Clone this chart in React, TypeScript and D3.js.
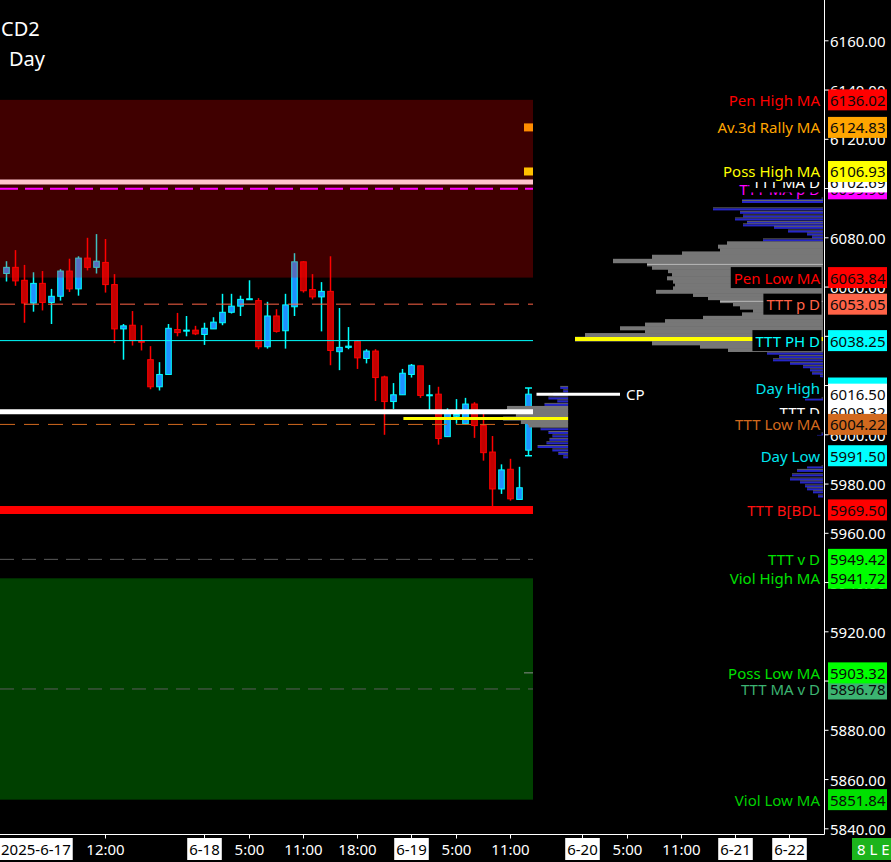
import React, { useEffect, useRef } from 'react';
import * as d3 from 'd3';

// ---------- DATA ----------
const candleOpen = [
  6065.5, 6068, 6062.75, 6053.5, 6061.5, 6053.75, 6056.25, 6066.5, 6059.25, 6071.75,
  6068, 6070, 6061, 6043, 6044.5, 6038, 6030.5, 6019.5, 6024.5, 6042.75,
  6042.25, 6042.5, 6040.75, 6043, 6045.5, 6049.75, 6052.25, 6055, 6054.5, 6035.75,
  6048.25, 6042.25, 6052, 6070.25, 6059, 6056, 6058.25, 6033.75, 6035.5, 6038,
  6031, 6034, 6023.5, 6013.5, 6016.25, 6024.5, 6028, 6016, 6016.5, 5999.25,
  6007.5, 6004.5, 6012.5, 6003.75, 5993, 5978, 5986, 5973.75, 5993.75,
];
const candleHigh = [
  6070.5, 6075, 6069, 6066, 6066.5, 6059.25, 6067.25, 6071.5, 6072.5, 6080,
  6081.5, 6079.5, 6065.25, 6045, 6050.25, 6044.5, 6036, 6029.5, 6045, 6049.5,
  6048.25, 6044.25, 6045.5, 6047.75, 6057.25, 6057.25, 6056.5, 6062.75, 6055.5, 6054,
  6051, 6057.25, 6073.75, 6070.5, 6065.25, 6062, 6072.5, 6051.5, 6043.75, 6038.5,
  6034.75, 6034.75, 6024, 6021, 6026.75, 6028.75, 6028, 6020.25, 6019.5, 6010.75,
  6014.5, 6015, 6013.25, 6008.75, 5999.5, 5988, 5990.25, 5987, 6019,
];
const candleLow = [
  6062.25, 6060.5, 6045.5, 6050, 6050.5, 6045, 6054.5, 6058, 6056.5, 6066.75,
  6065.5, 6057.75, 6037.25, 6030.5, 6036.25, 6034.25, 6018.5, 6018, 6024.5, 6040,
  6040, 6040.5, 6036.5, 6043, 6044.5, 6049.25, 6048.25, 6054.75, 6034.75, 6035,
  6041.5, 6035, 6048.25, 6057.75, 6055, 6042, 6028.25, 6026.25, 6034.75, 6026.75,
  6029, 6013.75, 6000, 6010.5, 6016.25, 6023.25, 6015, 6010, 5996, 5999.25,
  6004.5, 6004.5, 5998.75, 5989.5, 5970.75, 5976, 5973.25, 5973.75, 5991.5,
];
const candleClose = [
  6068, 6062.5, 6053.5, 6061.5, 6053.75, 6056.25, 6066.5, 6059.25, 6071.75, 6068,
  6070.5, 6061, 6043, 6044.25, 6038.25, 6037.75, 6019.5, 6024.5, 6043.25, 6041.5,
  6042.5, 6041, 6043.25, 6045.75, 6049.75, 6052.25, 6055, 6055.25, 6035.75, 6048.25,
  6042, 6052.75, 6070.25, 6058.5, 6056, 6058.25, 6034.25, 6035.5, 6036, 6031.25,
  6034, 6023.25, 6013.5, 6016.25, 6025, 6028.25, 6016, 6016.25, 5998.5, 6008.75,
  6008.25, 6012.5, 6003.75, 5992.75, 5978, 5985.75, 5974, 5978.5, 6016.5,
];

const levelNames = [
  'TTT MA p D', 'TTT MA D', 'Poss High MA', 'Pen High MA', 'Av.3d Rally MA', 'Pen Low MA',
  'TTT p D', 'TTT PH D', 'Day High', 'TTT D', 'CP', 'TTT Low MA', 'Day Low', 'TTT B[BDL',
  'TTT v D', 'Viol High MA', 'TTT MA v D', 'Poss Low MA', 'Viol Low MA',
];
const levelValues = [
  6099.90, 6102.69, 6106.93, 6136.02, 6124.83, 6063.84,
  6053.05, 6038.25, 6019.00, 6009.32, 6016.50, 6004.22, 5991.50, 5969.50,
  5949.42, 5941.72, 5896.78, 5903.32, 5851.84,
];

const yTickValues = d3.range(5840, 6161, 20);

const xTickIndex = [-1, 11, 22, 27, 33, 39, 45, 50, 56, 64, 69, 75, 81, 87];
const xTickLabels = ['2025-6-17', '12:00', '6-18', '5:00', '11:00', '18:00', '6-19', '5:00', '11:00', '6-20', '5:00', '11:00', '6-21', '6-22'];
const xTickIsDate = [true, false, true, false, false, false, true, false, false, true, false, false, true, true];

// session volume profile
const profilePrices = [
  6095.7, 6094.7, 6091.7, 6090.3, 6088.8, 6087.6, 6086.2, 6085.2, 6084.2, 6082.7, 6081.5, 6080.3, 6079.1,
  6077.8, 6076.4, 6075.0, 6073.7, 6072.3, 6070.4, 6069.2, 6067.8, 6066.5, 6065.0, 6063.5, 6062.2, 6060.8,
  6059.5, 6058.0, 6056.8, 6055.4, 6054.2, 6053.0, 6051.6, 6050.3, 6048.9, 6047.5, 6046.2, 6044.7, 6043.2,
  6041.9, 6040.5, 6038.9, 6037.1, 6035.8, 6034.4,
  6033.1, 6031.7, 6030.4, 6029.0, 6027.6, 6026.3, 6025.0, 6023.9, 6014.5, 6000.3,
  5986.9, 5985.5, 5983.7, 5982.0, 5980.8, 5979.2, 5978.0, 5976.8, 5975.1,
];
const profileVolumes = [
  81, 81, 110, 83, 80, 88, 76, 80, 49, 35, 16, 11, 60,
  96, 105, 103, 141, 171, 210, 176, 171, 155, 151, 156, 150, 148,
  150, 167, 130, 115, 103, 90, 83, 70, 81, 120, 158, 178, 203,
  178, 238, 248, 171, 123, 95,
  56, 44, 50, 33, 20, 13, 11, 3, 18, 6,
  16, 26, 31, 33, 23, 18, 16, 10, 5,
];
const profileVaHigh = 6078.5;
const profileVaLow = 6034.0;
const profileMarks = [6069.2, 6054.2];

// current-day small profile
const dayProfilePrices = [
  6019.2, 6017.8, 6016.4, 6014.9, 6013.7, 6012.3, 6010.9, 6009.5, 6008.0, 6006.6, 6005.2, 6003.8,
  6002.4, 6000.9, 5999.5, 5998.1, 5996.7, 5995.2, 5993.8, 5992.4, 5991.0,
];
const dayProfileVolumes = [
  8, 5, 15, 20, 11, 24, 62, 63, 53, 66, 48, 40,
  28, 20, 16, 19, 22, 31, 16, 10, 5,
];
const dayProfileVaHigh = 6011.5;
const dayProfileVaLow = 6003.2;

// ---------- STYLE ----------
const FONT = '"Noto Sans", "Open Sans", "DejaVu Sans", sans-serif';
type LStyle = { box: string; text: string; line?: { c: string; w: number; dash?: string }; square?: string; tick?: string };
const levelStyle: Record<string, LStyle> = {
  'TTT MA p D': { box: '#ff00ff', text: '#ff00ff', line: { c: '#ff00ff', w: 2, dash: '18,7' } },
  'TTT MA D': { box: '#ffffff', text: '#ffffff', line: { c: '#ffc4cc', w: 5 } },
  'Poss High MA': { box: '#ffff00', text: '#ffff00', square: '#ffc000' },
  'Pen High MA': { box: '#ff0000', text: '#ff0000' },
  'Av.3d Rally MA': { box: '#ffa500', text: '#ffa500', square: '#ff8c00' },
  'Pen Low MA': { box: '#ff0000', text: '#ff0000' },
  'TTT p D': { box: '#ff6347', text: '#ff6347', line: { c: '#ff6347', w: 1, dash: '15,9' } },
  'TTT PH D': { box: '#00ffff', text: '#00ffff', line: { c: '#00ffff', w: 1 } },
  'Day High': { box: '#00ffff', text: '#00e5ee' },
  'TTT D': { box: '#ffffff', text: '#ffffff' },
  'CP': { box: '#ffffff', text: '' },
  'TTT Low MA': { box: '#d2691e', text: '#d2691e', line: { c: '#d2691e', w: 1, dash: '15,9' } },
  'Day Low': { box: '#00ffff', text: '#00e5ee' },
  'TTT B[BDL': { box: '#ff0000', text: '#ff1010', line: { c: '#ff0000', w: 8 } },
  'TTT v D': { box: '#00ff00', text: '#00e000', line: { c: '#5c5c5c', w: 1, dash: '14,8' } },
  'Viol High MA': { box: '#00ff00', text: '#00e000' },
  'TTT MA v D': { box: '#3cb371', text: '#3cb371', line: { c: '#5c5c5c', w: 1, dash: '14,8' } },
  'Poss Low MA': { box: '#00ff00', text: '#00e000', tick: '#8a8a8a' },
  'Viol Low MA': { box: '#00e000', text: '#00d000' },
};

const W = 891;
const H = 862;

export default function App() {
  const ref = useRef<SVGSVGElement>(null);

  useEffect(() => {
    document.body.style.margin = '0';
    document.body.style.background = '#000';
    const svg = d3.select(ref.current as SVGSVGElement);
    svg.selectAll('*').remove();

    const plotRight = 824.5;
    const plotBottom = 834.5;
    const x = d3.scaleLinear().domain([0, 87]).range([6.5, 789.5]);
    const y = d3.scaleLinear().domain([5840, 6160]).range([828.8, 40.8]);
    const n = candleOpen.length;
    const xEnd = x(n - 1) + 4.5;
    const val = (name: string) => levelValues[levelNames.indexOf(name)];

    svg.append('rect').attr('width', W).attr('height', H).attr('fill', '#000');

    // candles (all except the live one)
    const gC = svg.append('g');
    const drawCandle = (i: number, caps: boolean) => {
      const o = candleOpen[i], c = candleClose[i], h = candleHigh[i], l = candleLow[i];
      const up = c >= o;
      const cx = x(i);
      const stroke = up ? '#00ffff' : '#ff0000';
      const g = gC.append('g');
      g.append('line').attr('x1', cx).attr('x2', cx).attr('y1', y(h)).attr('y2', y(l))
        .attr('stroke', stroke).attr('stroke-width', 1.5);
      if (caps) {
        [h, l].forEach((v) => g.append('line').attr('x1', cx - 3.5).attr('x2', cx + 3.5)
          .attr('y1', y(v)).attr('y2', y(v)).attr('stroke', stroke).attr('stroke-width', 1.5));
      }
      const top = y(Math.max(o, c));
      const bh = Math.max(y(Math.min(o, c)) - top, 1);
      g.append('rect').attr('x', cx - 2.8).attr('y', top).attr('width', 5.6).attr('height', bh)
        .attr('fill', up ? '#1e90ff' : '#c40000').attr('stroke', stroke).attr('stroke-width', 1);
    };
    for (let i = 0; i < n - 1; i++) drawCandle(i, false);

    // bands (semi-transparent overlay)
    svg.append('rect').attr('x', 0).attr('width', xEnd)
      .attr('y', y(val('Pen High MA'))).attr('height', y(val('Pen Low MA')) - y(val('Pen High MA')))
      .attr('fill', '#ff0000').attr('fill-opacity', 0.25);
    svg.append('rect').attr('x', 0).attr('width', xEnd)
      .attr('y', y(val('Viol High MA'))).attr('height', y(val('Viol Low MA')) - y(val('Viol High MA')))
      .attr('fill', '#00ff00').attr('fill-opacity', 0.25);

    // level lines + markers
    levelNames.forEach((name, k) => {
      const st = levelStyle[name];
      const yy = y(levelValues[k]);
      if (st.line) {
        svg.append('line').attr('x1', 0).attr('x2', xEnd).attr('y1', yy).attr('y2', yy)
          .attr('stroke', st.line.c).attr('stroke-width', st.line.w)
          .attr('stroke-dasharray', st.line.dash || null);
      }
      if (st.square) {
        svg.append('rect').attr('x', xEnd - 9).attr('y', yy - 4).attr('width', 9).attr('height', 8).attr('fill', st.square);
      }
      if (st.tick) {
        svg.append('line').attr('x1', xEnd - 9).attr('x2', xEnd).attr('y1', yy).attr('y2', yy)
          .attr('stroke', st.tick).attr('stroke-width', 1);
      }
    });

    // profile drawer
    const drawProfile = (prices: number[], vols: number[], vaHi: number, vaLo: number, right: number, maxW: number) => {
      const vs = d3.scaleLinear().domain([0, d3.max(vols) as number]).range([0, maxW]);
      const g = svg.append('g');
      prices.forEach((p, k) => {
        const yy = y(p);
        const w = vs(vols[k]);
        if (p <= vaHi && p >= vaLo) {
          const prevGap = k > 0 ? yy - y(prices[k - 1]) : 4;
          const nextGap = k < prices.length - 1 ? y(prices[k + 1]) - yy : 4;
          const t = Math.min(prevGap / 2, 2.4) + 0.3;
          const b = Math.min(nextGap / 2, 2.4) + 0.3;
          g.append('rect').attr('x', right - w).attr('y', yy - t).attr('width', w).attr('height', t + b).attr('fill', '#777777');
        } else {
          g.append('rect').attr('x', right - w).attr('y', yy - 1.6).attr('width', w).attr('height', 1)
            .attr('fill', '#666666');
          g.append('rect').attr('x', right - w).attr('y', yy - 0.6).attr('width', w).attr('height', 2)
            .attr('fill', '#2626c8');
        }
      });
      return vs;
    };

    // day profile
    const dayRight = x(62.4);
    drawProfile(dayProfilePrices, dayProfileVolumes, dayProfileVaHigh, dayProfileVaLow, dayRight, 65);

    // TTT D thick white line
    const yTD = y(val('TTT D'));
    svg.append('line').attr('x1', 0).attr('x2', xEnd).attr('y1', yTD).attr('y2', yTD)
      .attr('stroke', '#ffffff').attr('stroke-width', 5);

    // session profile
    const profRight = 823;
    const vsBig = drawProfile(profilePrices, profileVolumes, profileVaHigh, profileVaLow, profRight, 248);
    profileMarks.forEach((p) => {
      const k = d3.minIndex(profilePrices, (q) => Math.abs(q - p));
      const w = vsBig(profileVolumes[k]);
      svg.append('line').attr('x1', profRight - w).attr('x2', profRight).attr('y1', y(p)).attr('y2', y(p))
        .attr('stroke', '#b8b8b8').attr('stroke-width', 1);
    });

    // POC lines
    const bigPoc = d3.maxIndex(profileVolumes);
    svg.append('line').attr('x1', profRight - vsBig(profileVolumes[bigPoc])).attr('x2', profRight)
      .attr('y1', y(profilePrices[bigPoc])).attr('y2', y(profilePrices[bigPoc]))
      .attr('stroke', '#ffff00').attr('stroke-width', 4);
    const dayPoc = d3.maxIndex(dayProfileVolumes);
    svg.append('line').attr('x1', x(44.1)).attr('x2', dayRight)
      .attr('y1', y(dayProfilePrices[dayPoc])).attr('y2', y(dayProfilePrices[dayPoc]))
      .attr('stroke', '#ffff00').attr('stroke-width', 3);

    // live candle
    drawCandle(n - 1, true);

    // CP marker
    const yCP = y(val('CP'));
    svg.append('line').attr('x1', x(n - 1) + 8).attr('x2', 620).attr('y1', yCP).attr('y2', yCP)
      .attr('stroke', '#ffffff').attr('stroke-width', 3);
    svg.append('text').attr('x', 626).attr('y', yCP).attr('dominant-baseline', 'central')
      .attr('font-family', FONT).attr('font-size', 15).attr('fill', '#ffffff').text('CP');

    // y tick labels
    const fmt = d3.format('.2f');
    yTickValues.forEach((t) => {
      svg.append('text').attr('x', 830).attr('y', y(t)).attr('dominant-baseline', 'central')
        .attr('font-family', FONT).attr('font-size', 15).attr('fill', '#ffffff').text(fmt(t));
    });

    // level labels
    levelNames.forEach((name, k) => {
      const st = levelStyle[name];
      const yy = y(levelValues[k]);
      const g = svg.append('g');
      if (st.text) {
        const bg = g.append('rect');
        const tx = g.append('text').attr('x', 820).attr('y', yy).attr('text-anchor', 'end')
          .attr('dominant-baseline', 'central').attr('font-family', FONT).attr('font-size', 15)
          .attr('fill', st.text).text(name);
        const tw = (tx.node() as SVGTextElement).getComputedTextLength();
        bg.attr('x', 820 - tw - 3).attr('y', yy - 10.5).attr('width', tw + 4.5).attr('height', 21).attr('fill', '#000');
      }
      g.append('rect').attr('x', 828).attr('y', yy - 10.5).attr('width', 59).attr('height', 21).attr('fill', st.box);
      g.append('text').attr('x', 830).attr('y', yy).attr('dominant-baseline', 'central')
        .attr('font-family', FONT).attr('font-size', 15).attr('fill', '#0a0a0a').text(fmt(levelValues[k]));
    });

    // title
    svg.append('text').attr('x', 1).attr('y', 36).attr('font-family', FONT).attr('font-size', 20)
      .attr('fill', '#ffffff').text('CD2');
    svg.append('text').attr('x', 9).attr('y', 66).attr('font-family', FONT).attr('font-size', 20)
      .attr('fill', '#ffffff').text('Day');

    // bottom strip
    svg.append('rect').attr('x', 0).attr('y', plotBottom + 0.5).attr('width', W).attr('height', H - plotBottom)
      .attr('fill', '#000');

    // axes
    svg.append('line').attr('x1', plotRight).attr('x2', plotRight).attr('y1', 0).attr('y2', plotBottom)
      .attr('stroke', '#ffffff').attr('stroke-width', 1);
    svg.append('line').attr('x1', 0).attr('x2', plotRight).attr('y1', plotBottom).attr('y2', plotBottom)
      .attr('stroke', '#ffffff').attr('stroke-width', 1);
    yTickValues.forEach((t) => {
      svg.append('line').attr('x1', plotRight).attr('x2', plotRight + 4).attr('y1', y(t)).attr('y2', y(t))
        .attr('stroke', '#ffffff').attr('stroke-width', 1);
    });

    xTickIndex.forEach((idx, k) => {
      const cx = x(idx);
      svg.append('line').attr('x1', cx).attr('x2', cx).attr('y1', plotBottom).attr('y2', plotBottom + 4)
        .attr('stroke', '#ffffff').attr('stroke-width', 1);
      const g = svg.append('g');
      const bg = g.append('rect');
      const tx = g.append('text').attr('y', 849).attr('dominant-baseline', 'central')
        .attr('font-family', FONT).attr('font-size', 15)
        .attr('fill', xTickIsDate[k] ? '#000000' : '#ffffff').text(xTickLabels[k]);
      const tw = (tx.node() as SVGTextElement).getComputedTextLength();
      let left = cx - tw / 2;
      if (left < 1) left = 1;
      tx.attr('x', left);
      if (xTickIsDate[k]) {
        bg.attr('x', left - 2).attr('y', 838).attr('width', tw + 4).attr('height', 22).attr('fill', '#ffffff');
      }
    });

    // status box
    svg.append('rect').attr('x', 852).attr('y', 838).attr('width', 39).attr('height', 22).attr('fill', '#1cb41c');
    svg.append('text').attr('x', 857).attr('y', 849).attr('dominant-baseline', 'central')
      .attr('font-family', FONT).attr('font-size', 15).attr('fill', '#ffffff').text('8 L E');
  }, []);

  return (
    <svg ref={ref} width={W} height={H}
      style={{ display: 'block', position: 'absolute', left: 0, top: 0, background: '#000' }} />
  );
}
